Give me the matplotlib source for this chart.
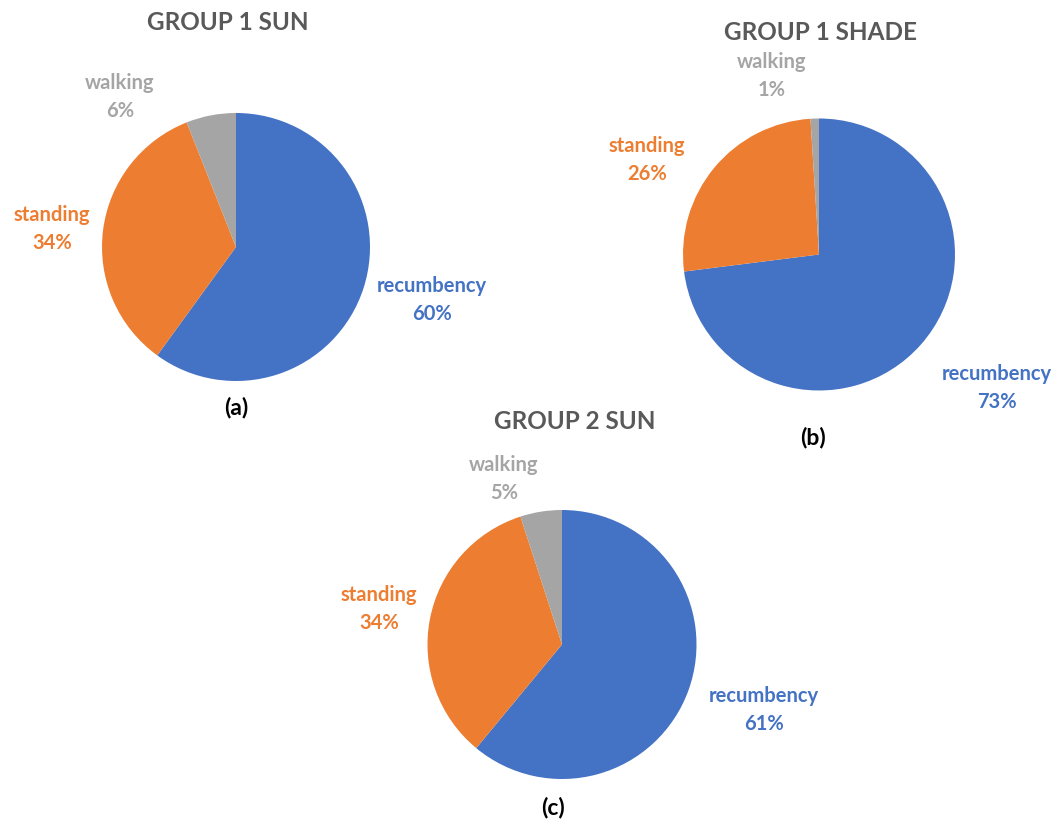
import matplotlib.pyplot as plt

plt.rcParams['font.family'] = ['Lato', 'DejaVu Sans']

activities = ['recumbency', 'standing', 'walking']
colors = ['#4472C4', '#ED7D31', '#A5A5A5']

titles = ['GROUP 1 SUN', 'GROUP 1 SHADE', 'GROUP 2 SUN']
panel_tags = ['(a)', '(b)', '(c)']
group1_sun = [60, 34, 6]
group1_shade = [73, 26, 1]
group2_sun = [61, 34, 5]
all_values = [group1_sun, group1_shade, group2_sun]

W, H = 1055, 824
# pie centre (px), radius (px), title pos, tag pos  -- layout only
layout = [
    dict(c=(236, 247), r=134, title=(228, 23), tag=(236, 407),
         lab=[(1.463, -0.396), (-1.373, 0.134), (-0.866, 1.12)]),
    dict(c=(819, 254.5), r=136, title=(820, 32), tag=(813, 437),
         lab=[(1.309, -0.982), (-1.265, 0.695), (-0.346, 1.312)]),
    dict(c=(562, 644.5), r=134.5, title=(575, 421), tag=(553, 808),
         lab=[(1.502, -0.487), (-1.361, 0.264), (-0.431, 1.23)]),
]

fig = plt.figure(figsize=(W / 100, H / 100), dpi=100)

for vals, title, tag, lay in zip(all_values, titles, panel_tags, layout):
    cx, cy = lay['c']
    r = lay['r']
    ax = fig.add_axes([(cx - r) / W, (H - cy - r) / H, 2 * r / W, 2 * r / H])
    ax.pie(vals, colors=colors, startangle=90, counterclock=False,
           radius=1, wedgeprops=dict(linewidth=0))
    ax.set_xlim(-1, 1)
    ax.set_ylim(-1, 1)
    ax.set_aspect('equal')
    ax.axis('off')

    for name, v, col, (lx, ly) in zip(activities, vals, colors, lay['lab']):
        ax.text(lx, ly, f'{name}\n{v}%', color=col, fontsize=14.5,
                fontweight='bold', ha='center', va='center',
                linespacing=1.45)

    fig.text(lay['title'][0] / W, 1 - lay['title'][1] / H, title,
             color='#595959', fontsize=17.5, fontweight='bold',
             ha='center', va='center')
    fig.text(lay['tag'][0] / W, 1 - lay['tag'][1] / H, tag,
             color='black', fontsize=16.5, fontweight='bold',
             ha='center', va='center')

fig.savefig('out.png', dpi=100)
